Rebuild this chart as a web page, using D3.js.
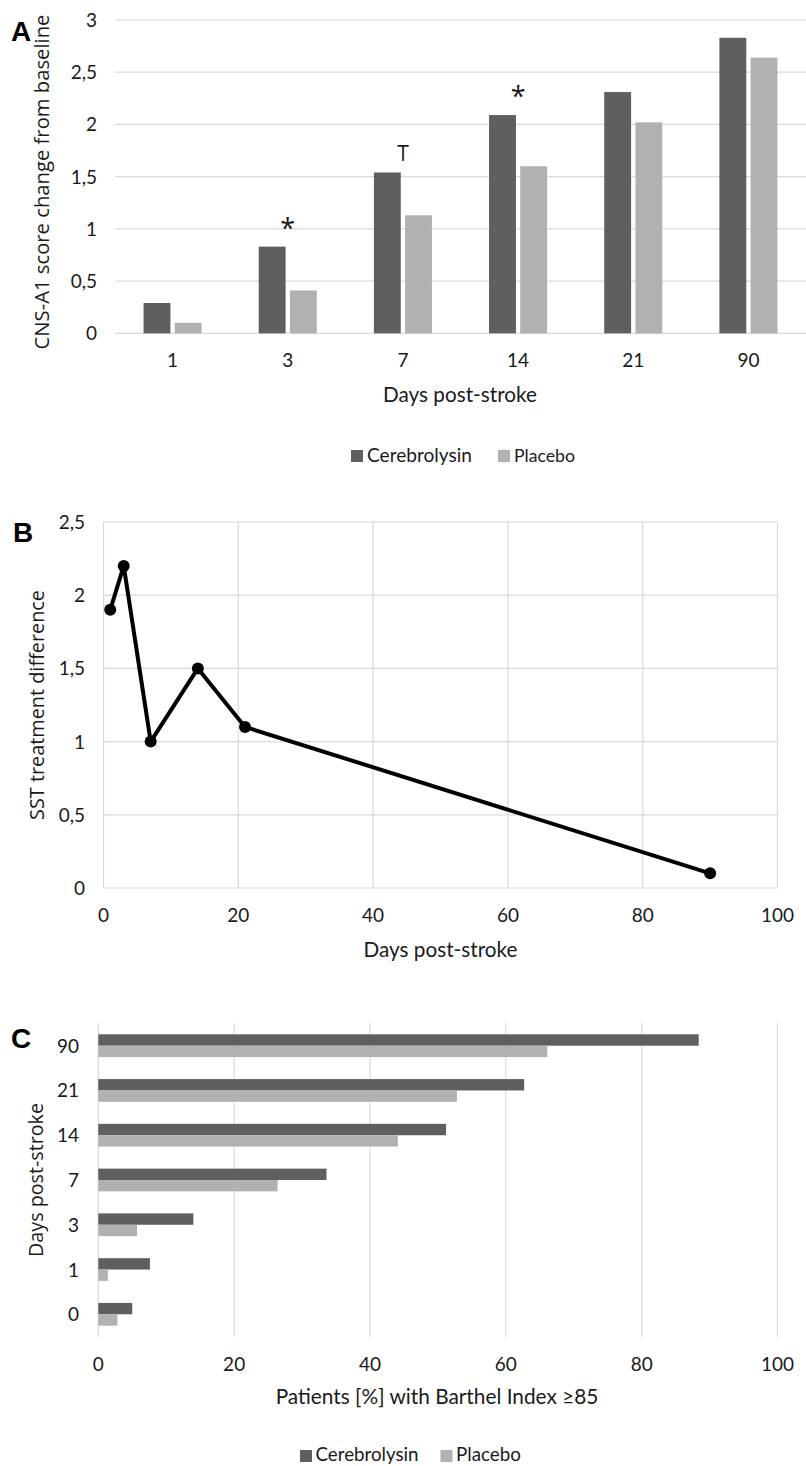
<!DOCTYPE html>
<html>
<head>
<meta charset="utf-8">
<script src="https://cdn.jsdelivr.net/npm/d3@7"></script>
<style>
  html, body { margin: 0; padding: 0; background: #fff; }
  svg { display: block; }
  .tick-lbl { font-family: Lato, "Open Sans", sans-serif; font-size: 19px; fill: #1a1a1a; }
  .title { font-family: Lato, "Open Sans", sans-serif; fill: #1a1a1a; }
  .ytitle { font-family: "Open Sans", sans-serif; fill: #1a1a1a; }
  .letter { font-family: "Liberation Sans", Arial, sans-serif; font-weight: bold; font-size: 28px; fill: #000; }
</style>
</head>
<body>
<svg id="chart" width="806" height="1466"></svg>
<script>
// ---------- DATA ----------
// Panel A
const daysA = ["1", "3", "7", "14", "21", "90"];
const cerebrolysinA = [0.29, 0.83, 1.54, 2.09, 2.31, 2.83];
const placeboA = [0.10, 0.41, 1.13, 1.60, 2.02, 2.64];
const annotationsA = ["", "*", "T", "*", "", ""];
const yTicksA = [0, 0.5, 1, 1.5, 2, 2.5, 3];

// Panel B
const daysB = [1, 3, 7, 14, 21, 90];
const sstDiff = [1.9, 2.2, 1.0, 1.5, 1.1, 0.1];
const xTicksB = [0, 20, 40, 60, 80, 100];
const yTicksB = [0, 0.5, 1, 1.5, 2, 2.5];

// Panel C
const daysC = ["90", "21", "14", "7", "3", "1", "0"];
const cerebrolysinC = [88.4, 62.7, 51.2, 33.6, 14.0, 7.6, 5.0];
const placeboC = [66.1, 52.8, 44.1, 26.4, 5.7, 1.4, 2.8];
const xTicksC = [0, 20, 40, 60, 80, 100];

const seriesNames = ["Cerebrolysin", "Placebo"];
const colors = { "Cerebrolysin": "#5f5f5f", "Placebo": "#b1b1b1" };
const gridColor = "#d9d9d9";

const fmt = v => String(v).replace(".", ",");

const svg = d3.select("#chart");

function fitText(sel, targetW) {
  const base = parseFloat(sel.style("font-size")) || 18;
  const w = sel.node().getComputedTextLength();
  if (w > 0) sel.style("font-size", (base * targetW / w) + "px");
}

// ---------- PANEL A ----------
{
  const g = svg.append("g");
  const x = d3.scaleBand().domain(daysA).range([115, 806]).paddingInner(0).paddingOuter(0);
  const y = d3.scaleLinear().domain([0, 3]).range([333.3, 20]);
  const bw = x.bandwidth();
  const sub = d3.scaleBand().domain(seriesNames).range([bw * 0.248, bw * 0.752]).paddingInner(0.138);

  g.selectAll(".gridA").data(yTicksA).join("line")
    .attr("x1", 115).attr("x2", 806)
    .attr("y1", d => y(d)).attr("y2", d => y(d))
    .attr("stroke", gridColor).attr("stroke-width", 1.2);

  const rows = daysA.map((d, i) => ({ day: d, vals: [
    { s: "Cerebrolysin", v: cerebrolysinA[i] }, { s: "Placebo", v: placeboA[i] }] }));

  g.selectAll(".grpA").data(rows).join("g")
    .attr("transform", d => `translate(${x(d.day)},0)`)
    .selectAll("rect").data(d => d.vals).join("rect")
    .attr("x", d => sub(d.s)).attr("width", sub.bandwidth())
    .attr("y", d => y(d.v)).attr("height", d => y(0) - y(d.v))
    .attr("fill", d => colors[d.s]);

  g.selectAll(".ytA").data(yTicksA).join("text")
    .attr("class", "tick-lbl")
    .attr("x", 97).attr("y", d => y(d) + 7)
    .attr("text-anchor", "end").text(d => fmt(d));

  g.selectAll(".xtA").data(daysA).join("text")
    .attr("class", "tick-lbl")
    .attr("x", d => x(d) + bw / 2).attr("y", 367)
    .attr("text-anchor", "middle").text(d => d);

  const ann = daysA.map((d, i) => ({ day: d, a: annotationsA[i], top: cerebrolysinA[i] }));
  g.selectAll(".annA").data(ann.filter(d => d.a === "*")).join("text")
    .attr("class", "ytitle").style("font-size", "27px")
    .attr("x", d => x(d.day) + bw / 2).attr("y", d => y(d.top) - 9)
    .attr("text-anchor", "middle").text(d => d.a);
  g.selectAll(".annT").data(ann.filter(d => d.a === "T")).join("text")
    .attr("class", "ytitle").style("font-size", "21px")
    .attr("x", d => x(d.day) + bw / 2).attr("y", d => y(d.top) - 11)
    .attr("text-anchor", "middle").text(d => d.a);

  const xt = g.append("text").attr("class", "title").style("font-size", "20px")
    .attr("x", 460).attr("y", 402).attr("text-anchor", "middle").text("Days post-stroke");
  fitText(xt, 154);
  const yt = g.append("text").attr("class", "ytitle").style("font-size", "18px")
    .attr("transform", "translate(49,182) rotate(-90)")
    .attr("text-anchor", "middle").text("CNS-A1 score change from baseline");
  fitText(yt, 335);

  g.append("text").attr("class", "letter").attr("x", 11).attr("y", 41).text("A");

  const legX = [351, 498];
  const legW = [105, 61];
  seriesNames.forEach((s, i) => {
    g.append("rect").attr("x", legX[i]).attr("y", 450).attr("width", 12).attr("height", 12).attr("fill", colors[s]);
    const t = g.append("text").attr("class", "title").style("font-size", "18px")
      .attr("x", legX[i] + 16).attr("y", 462).text(s);
    fitText(t, legW[i]);
  });
}

// ---------- PANEL B ----------
{
  const g = svg.append("g");
  const x = d3.scaleLinear().domain([0, 100]).range([103.5, 777.5]);
  const y = d3.scaleLinear().domain([0, 2.5]).range([888, 522]);

  g.selectAll(".gxB").data(xTicksB).join("line")
    .attr("x1", d => x(d)).attr("x2", d => x(d)).attr("y1", y(2.5)).attr("y2", y(0))
    .attr("stroke", gridColor).attr("stroke-width", 1.2);
  g.selectAll(".gyB").data(yTicksB).join("line")
    .attr("x1", x(0)).attr("x2", x(100)).attr("y1", d => y(d)).attr("y2", d => y(d))
    .attr("stroke", gridColor).attr("stroke-width", 1.2);

  const pts = daysB.map((d, i) => ({ d, v: sstDiff[i] }));
  g.append("path").datum(pts)
    .attr("d", d3.line().x(p => x(p.d)).y(p => y(p.v)))
    .attr("fill", "none").attr("stroke", "#000").attr("stroke-width", 4)
    .attr("stroke-linejoin", "round");
  g.selectAll(".ptB").data(pts).join("circle")
    .attr("cx", p => x(p.d)).attr("cy", p => y(p.v)).attr("r", 6).attr("fill", "#000");

  g.selectAll(".ytB").data(yTicksB).join("text")
    .attr("class", "tick-lbl").attr("x", 85).attr("y", d => y(d) + 7)
    .attr("text-anchor", "end").text(d => fmt(d));
  g.selectAll(".xtB").data(xTicksB).join("text")
    .attr("class", "tick-lbl").attr("x", d => x(d)).attr("y", 922)
    .attr("text-anchor", "middle").text(d => d);

  const xt = g.append("text").attr("class", "title").style("font-size", "20px")
    .attr("x", 440.5).attr("y", 956.5).attr("text-anchor", "middle").text("Days post-stroke");
  fitText(xt, 154);
  const yt = g.append("text").attr("class", "ytitle").style("font-size", "18px")
    .attr("transform", "translate(44,705) rotate(-90)")
    .attr("text-anchor", "middle").text("SST treatment difference");
  fitText(yt, 230);

  g.append("text").attr("class", "letter").attr("x", 13).attr("y", 542).text("B");
}

// ---------- PANEL C ----------
{
  const g = svg.append("g");
  const x = d3.scaleLinear().domain([0, 100]).range([98.3, 777.5]);
  const y = d3.scaleBand().domain(daysC).range([1023.3, 1336.7]);
  const bh = y.bandwidth();
  const sub = d3.scaleBand().domain(seriesNames).range([bh * 0.246, bh * 0.754]);

  g.selectAll(".gxC").data(xTicksC).join("line")
    .attr("x1", d => x(d)).attr("x2", d => x(d)).attr("y1", 1023.3).attr("y2", 1336.7)
    .attr("stroke", gridColor).attr("stroke-width", 1.2);

  const rows = daysC.map((d, i) => ({ day: d, vals: [
    { s: "Cerebrolysin", v: cerebrolysinC[i] }, { s: "Placebo", v: placeboC[i] }] }));
  g.selectAll(".grpC").data(rows).join("g")
    .attr("transform", d => `translate(0,${y(d.day)})`)
    .selectAll("rect").data(d => d.vals).join("rect")
    .attr("x", x(0)).attr("width", d => x(d.v) - x(0))
    .attr("y", d => sub(d.s)).attr("height", sub.bandwidth())
    .attr("fill", d => colors[d.s]);

  g.selectAll(".ytC").data(daysC).join("text")
    .attr("class", "tick-lbl").attr("x", 79).attr("y", d => y(d) + bh / 2 + 7)
    .attr("text-anchor", "end").text(d => d);
  g.selectAll(".xtC").data(xTicksC).join("text")
    .attr("class", "tick-lbl").attr("x", d => x(d)).attr("y", 1371)
    .attr("text-anchor", "middle").text(d => d);

  const xt = g.append("text").attr("class", "title").style("font-size", "20px")
    .attr("x", 437).attr("y", 1403.5).attr("text-anchor", "middle").text("Patients [%] with Barthel Index ≥85");
  fitText(xt, 323);
  const yt = g.append("text").attr("class", "ytitle").style("font-size", "18px")
    .attr("transform", "translate(43,1180) rotate(-90)")
    .attr("text-anchor", "middle").text("Days post-stroke");
  fitText(yt, 154);

  g.append("text").attr("class", "letter").attr("x", 11).attr("y", 1048).text("C");

  const legX = [300, 440.5];
  const legW = [103, 65];
  seriesNames.forEach((s, i) => {
    g.append("rect").attr("x", legX[i]).attr("y", 1450).attr("width", 12).attr("height", 12).attr("fill", colors[s]);
    const t = g.append("text").attr("class", "title").style("font-size", "18px")
      .attr("x", legX[i] + 15.5).attr("y", 1461).text(s);
    fitText(t, legW[i]);
  });
}
</script>
</body>
</html>
